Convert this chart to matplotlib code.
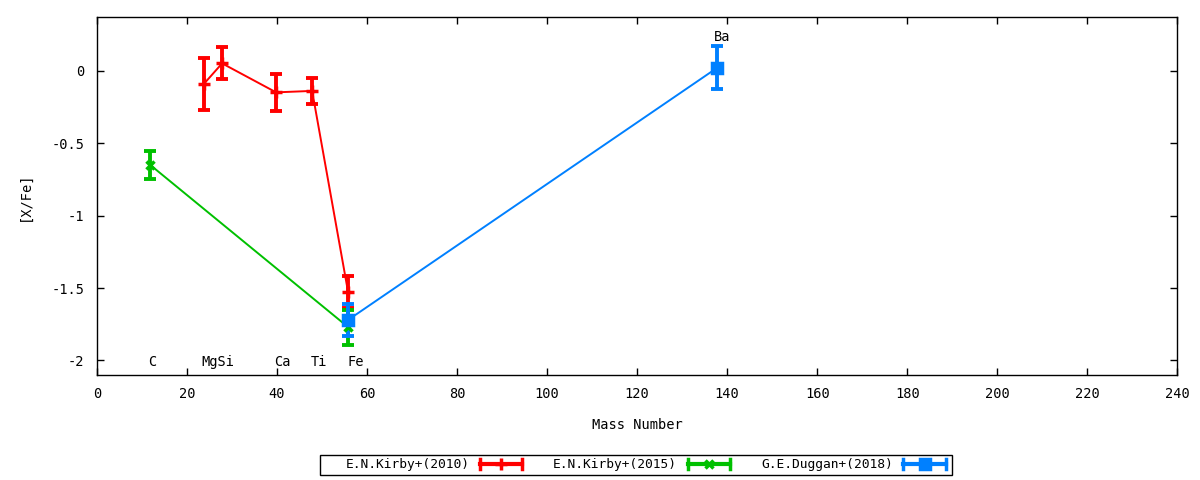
import numpy as np
import matplotlib
matplotlib.use('Agg')
import matplotlib.pyplot as plt
from matplotlib.lines import Line2D
from matplotlib.patches import Rectangle

plt.rcParams['font.family'] = ['DejaVu Sans Mono']
plt.rcParams['font.size'] = 9.8

# Kirby+ (2010): Mg, Si, Ca, Ti, Fe
kirby10_mass = [23.8, 27.8, 39.8, 47.8, 55.8]
kirby10_val = [-0.09, 0.05, -0.15, -0.14, -1.53]
kirby10_err = [0.18, 0.11, 0.13, 0.09, 0.11]

# Kirby+ (2015): C, Fe
kirby15_mass = [11.8, 55.8]
kirby15_val = [-0.65, -1.77]
kirby15_err = [0.095, 0.12]

# Duggan+ (2018): Fe, Ba
duggan_mass = [55.8, 137.8]
duggan_val = [-1.72, 0.02]
duggan_err = [0.11, 0.15]

# element labels
elem_names = ['C', 'MgSi', 'Ca', 'Ti', 'Fe', 'Ba']
elem_x = [11.3, 23.3, 39.3, 47.6, 55.6, 137.1]
elem_y = [-2.01, -2.01, -2.01, -2.01, -2.01, 0.23]

series = [
    (kirby10_mass, kirby10_val, kirby10_err, '#ff0000', '+', 8, 'E.N.Kirby+(2010)'),
    (kirby15_mass, kirby15_val, kirby15_err, '#00c000', 'x', 6, 'E.N.Kirby+(2015)'),
    (duggan_mass, duggan_val, duggan_err, '#0080ff', 's', 7, 'G.E.Duggan+(2018)'),
]


class CapHandler:
    # gnuplot-like key sample: thick bar with end caps and a marker in the middle
    def legend_artist(self, legend, orig_handle, fontsize, handlebox):
        x0, y0 = -handlebox.xdescent, -handlebox.ydescent
        w, h = handlebox.width, handlebox.height
        yc = y0 + h / 2
        c = orig_handle.get_color()
        arts = [
            Line2D([x0, x0 + w], [yc, yc], color=c, lw=3),
            Line2D([x0, x0], [yc - 3.5, yc + 3.5], color=c, lw=2.5),
            Line2D([x0 + w, x0 + w], [yc - 3.5, yc + 3.5], color=c, lw=2.5),
            Line2D([x0 + w / 2], [yc], color=c, marker=orig_handle.get_marker(),
                   markersize=orig_handle.get_markersize(), mew=2.5, ls='none'),
        ]
        for a in arts:
            a.set_transform(handlebox.get_transform())
            handlebox.add_artist(a)
        return arts[0]


fig = plt.figure(figsize=(12, 4.8), dpi=100)
ax = fig.add_axes([0.0808, 0.2188, 0.9003, 0.7458])

handles = []
for mass, val, err, color, mk, ms, label in series:
    ax.plot(mass, val, color=color, lw=1.4, zorder=2)
    ax.errorbar(mass, val, yerr=err, fmt='none', ecolor=color, elinewidth=2.8,
                capsize=4, capthick=2.8, zorder=3)
    ax.plot(mass, val, ls='none', marker=mk, color=color, markersize=ms, mew=2.5, zorder=4)
    handles.append(Line2D([], [], color=color, marker=mk, markersize=ms, label=label))

for name, x, y in zip(elem_names, elem_x, elem_y):
    ax.text(x, y, name, ha='left', va='center')

ax.set_xlim(0, 240)
ax.set_ylim(-2.1, 0.37)
ax.set_xticks(np.arange(0, 241, 20))
ax.set_yticks([-2, -1.5, -1, -0.5, 0])
ax.set_yticklabels(['-2', '-1.5', '-1', '-0.5', '0'])
ax.tick_params(direction='in', top=True, right=True, length=5, width=1, pad=9)
for s in ax.spines.values():
    s.set_linewidth(1)
ax.set_xlabel('Mass Number', labelpad=12)
ax.set_ylabel('[X/Fe]', labelpad=14)

leg = fig.legend(handles=handles, handler_map={Line2D: CapHandler()}, ncol=3,
                 markerfirst=False, loc='center', bbox_to_anchor=(0.538, 0.0313),
                 frameon=False, fontsize=9.3, handlelength=3.3, columnspacing=2.4,
                 handletextpad=0.8, borderpad=0.2)
# key box drawn separately, gnuplot style (wider left margin than matplotlib's)
fig.patches.append(Rectangle((0.2667, 0.0104), 0.5267, 0.0417, transform=fig.transFigure,
                             fill=False, edgecolor='black', lw=1))

fig.savefig('out.png', dpi=100)
